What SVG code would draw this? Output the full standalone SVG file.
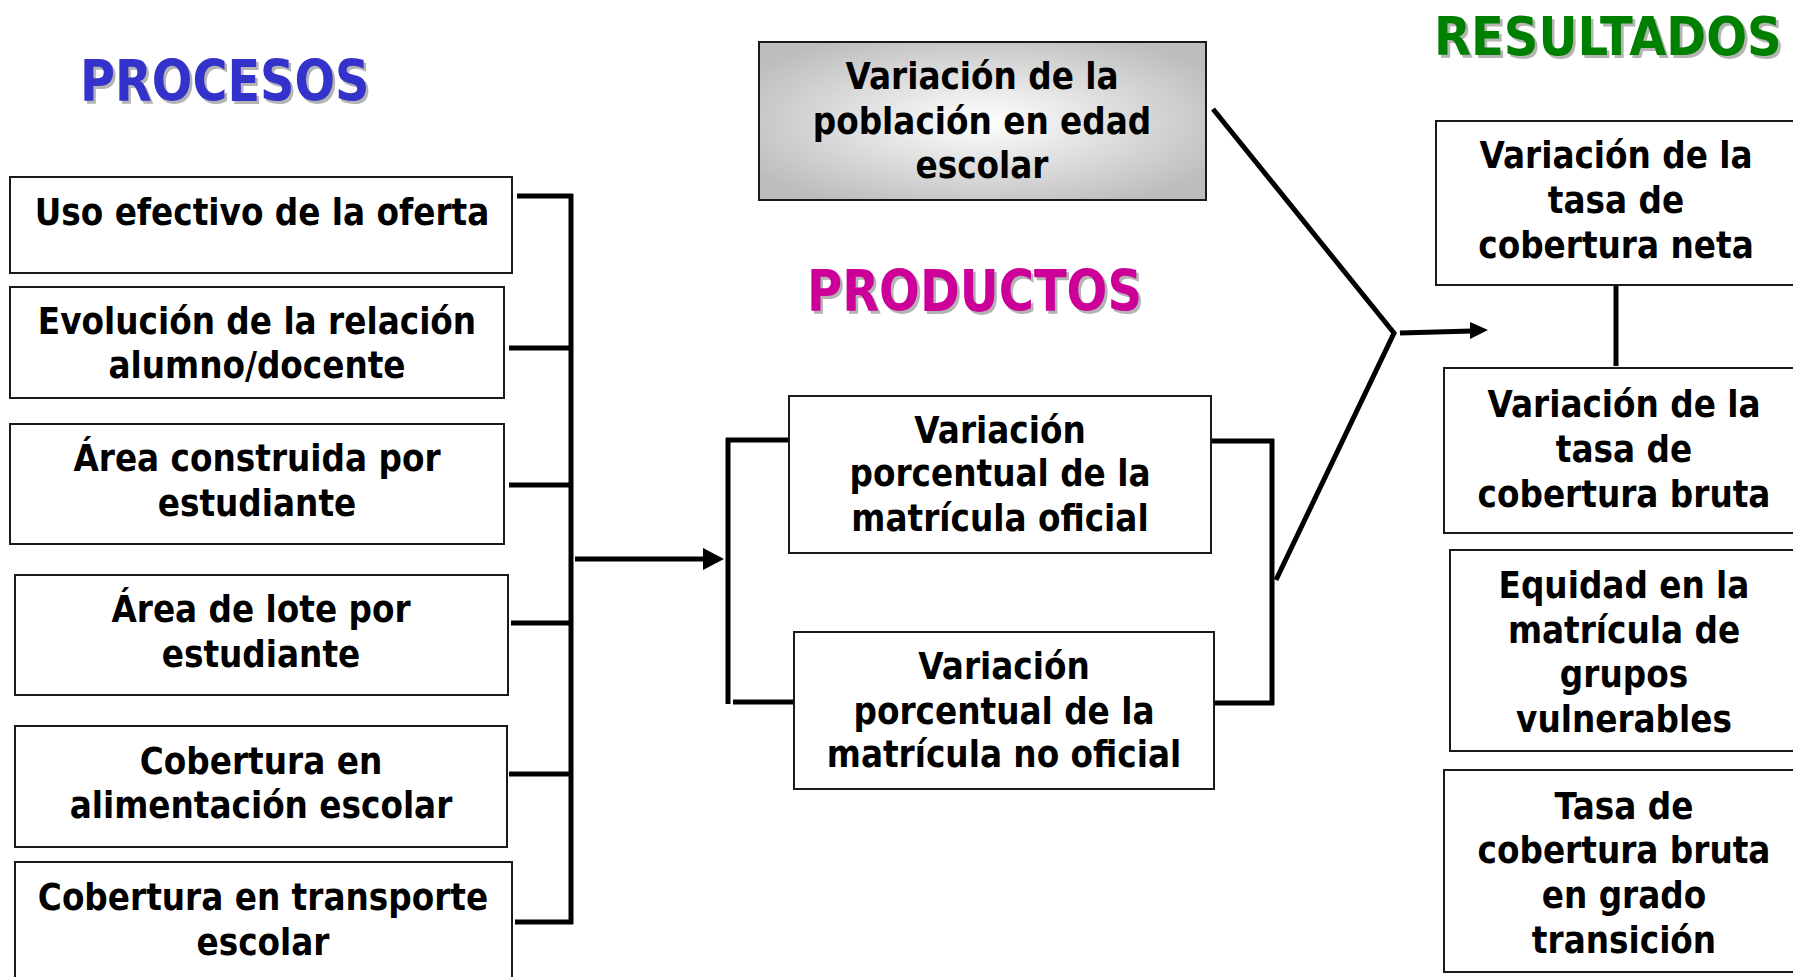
<svg xmlns="http://www.w3.org/2000/svg" width="1793" height="977" viewBox="0 0 1793 977">
<style>
.box{fill:#fff;stroke:#1a1a1a;stroke-width:2}
.t{font-family:"DejaVu Sans","Liberation Sans",sans-serif;font-weight:bold;font-size:37px;fill:#000;text-anchor:middle}
.h{font-family:"DejaVu Sans","Liberation Sans",sans-serif;font-weight:bold;font-size:57px}
.sh{fill:#b4b4b4}
.c{fill:none;stroke:#000;stroke-width:5}
.ah{fill:#000}
</style>
<defs>
<radialGradient id="gray" cx="0.5" cy="0.5" r="0.6">
<stop offset="0" stop-color="#ffffff"/>
<stop offset="1" stop-color="#bdbdbd"/>
</radialGradient>
</defs>
<rect width="1793" height="977" fill="#fff"/>

<g id="titles">
<g transform="translate(80 101) scale(0.838 1)">
<text class="h sh" x="3" y="3">PROCESOS</text>
<text class="h" x="0" y="0" fill="#3333cc">PROCESOS</text>
</g>
<g transform="translate(807 311) scale(0.842 1)">
<text class="h sh" x="3" y="3">PRODUCTOS</text>
<text class="h" x="0" y="0" fill="#cc0099">PRODUCTOS</text>
</g>
<g transform="translate(1434 55) scale(0.89 1)">
<text class="h sh" x="3" y="3" style="font-size:54px">RESULTADOS</text>
<text class="h" x="0" y="0" style="font-size:54px" fill="#008000">RESULTADOS</text>
</g>
</g>

<g id="connectors">
<line class="c" x1="571" y1="194" x2="571" y2="924"/>
<line class="c" x1="517" y1="196" x2="573" y2="196"/>
<line class="c" x1="509" y1="348" x2="571" y2="348"/>
<line class="c" x1="509" y1="485" x2="571" y2="485"/>
<line class="c" x1="511" y1="623" x2="571" y2="623"/>
<line class="c" x1="509" y1="774" x2="571" y2="774"/>
<line class="c" x1="515" y1="922" x2="573" y2="922"/>
<line class="c" x1="575" y1="559" x2="706" y2="559"/>
<polygon class="ah" points="703,548 724,559 703,570"/>
<line class="c" x1="728" y1="438" x2="728" y2="704"/>
<line class="c" x1="726" y1="440" x2="789" y2="440"/>
<line class="c" x1="733" y1="702" x2="794" y2="702"/>
<line class="c" x1="1211" y1="441" x2="1274" y2="441"/>
<line class="c" x1="1272" y1="439" x2="1272" y2="705"/>
<line class="c" x1="1214" y1="703" x2="1274" y2="703"/>
<polyline class="c" points="1276,580 1394,333 1213,109"/>
<line class="c" x1="1400" y1="333" x2="1472" y2="331"/>
<polygon class="ah" points="1470,322 1488,330 1470,339"/>
<line class="c" x1="1616" y1="285" x2="1616" y2="366"/>
</g>

<g id="n_uso">
<rect class="box" x="10" y="177" width="502" height="96"/>
<g transform="translate(262 0) scale(0.885 1)"><text class="t" x="0" y="225">Uso efectivo de la oferta</text></g>
</g>
<g id="n_evolucion">
<rect class="box" x="10" y="287" width="494" height="111"/>
<g transform="translate(257 0) scale(0.885 1)"><text class="t" x="0" y="334">Evolución de la relación</text><text class="t" x="0" y="378">alumno/docente</text></g>
</g>
<g id="n_area_construida">
<rect class="box" x="10" y="424" width="494" height="120"/>
<g transform="translate(257 0) scale(0.885 1)"><text class="t" x="0" y="471">Área construida por</text><text class="t" x="0" y="516">estudiante</text></g>
</g>
<g id="n_area_lote">
<rect class="box" x="15" y="575" width="493" height="120"/>
<g transform="translate(261 0) scale(0.885 1)"><text class="t" x="0" y="622">Área de lote por</text><text class="t" x="0" y="667">estudiante</text></g>
</g>
<g id="n_alimentacion">
<rect class="box" x="15" y="726" width="492" height="121"/>
<g transform="translate(261 0) scale(0.885 1)"><text class="t" x="0" y="774">Cobertura en</text><text class="t" x="0" y="818">alimentación escolar</text></g>
</g>
<g id="n_transporte">
<rect class="box" x="15" y="862" width="497" height="130"/>
<g transform="translate(263 0) scale(0.885 1)"><text class="t" x="0" y="910">Cobertura en transporte</text><text class="t" x="0" y="955">escolar</text></g>
</g>

<g id="n_poblacion">
<rect x="759" y="42" width="447" height="158" fill="url(#gray)" stroke="#1a1a1a" stroke-width="2"/>
<g transform="translate(982 0) scale(0.885 1)"><text class="t" x="0" y="89">Variación de la</text><text class="t" x="0" y="134">población en edad</text><text class="t" x="0" y="178">escolar</text></g>
</g>

<g id="n_matricula_oficial">
<rect class="box" x="789" y="396" width="422" height="157"/>
<g transform="translate(1000 0) scale(0.885 1)"><text class="t" x="0" y="443">Variación</text><text class="t" x="0" y="486">porcentual de la</text><text class="t" x="0" y="531">matrícula oficial</text></g>
</g>
<g id="n_matricula_no_oficial">
<rect class="box" x="794" y="632" width="420" height="157"/>
<g transform="translate(1004 0) scale(0.885 1)"><text class="t" x="0" y="679">Variación</text><text class="t" x="0" y="724">porcentual de la</text><text class="t" x="0" y="767">matrícula no oficial</text></g>
</g>

<g id="n_cobertura_neta">
<rect class="box" x="1436" y="121" width="400" height="164"/>
<g transform="translate(1616 0) scale(0.885 1)"><text class="t" x="0" y="168">Variación de la</text><text class="t" x="0" y="213">tasa de</text><text class="t" x="0" y="258">cobertura neta</text></g>
</g>
<g id="n_cobertura_bruta">
<rect class="box" x="1444" y="368" width="400" height="165"/>
<g transform="translate(1624 0) scale(0.885 1)"><text class="t" x="0" y="417">Variación de la</text><text class="t" x="0" y="462">tasa de</text><text class="t" x="0" y="507">cobertura bruta</text></g>
</g>
<g id="n_equidad">
<rect class="box" x="1450" y="550" width="400" height="201"/>
<g transform="translate(1624 0) scale(0.885 1)"><text class="t" x="0" y="598">Equidad en la</text><text class="t" x="0" y="643">matrícula de</text><text class="t" x="0" y="687">grupos</text><text class="t" x="0" y="732">vulnerables</text></g>
</g>
<g id="n_transicion">
<rect class="box" x="1444" y="770" width="400" height="202"/>
<g transform="translate(1624 0) scale(0.885 1)"><text class="t" x="0" y="819">Tasa de</text><text class="t" x="0" y="863">cobertura bruta</text><text class="t" x="0" y="908">en grado</text><text class="t" x="0" y="953">transición</text></g>
</g>
</svg>
